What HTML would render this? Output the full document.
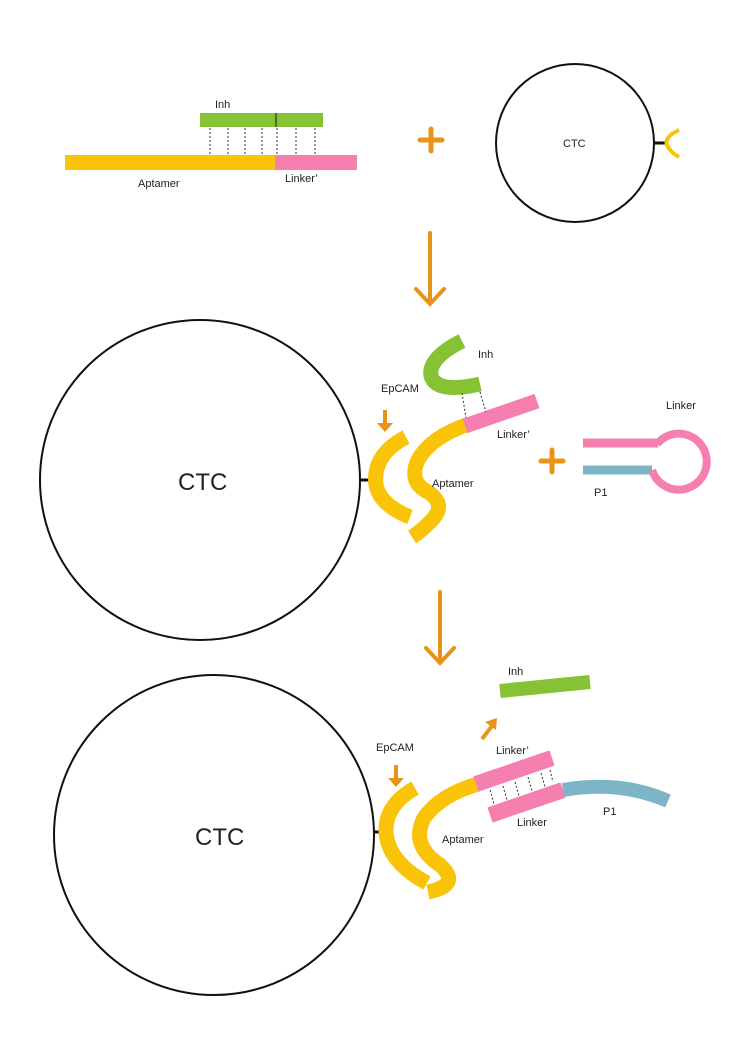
<!DOCTYPE html>
<html><head><meta charset="utf-8"><style>
html,body{margin:0;padding:0;background:#fff}
svg text{font-family:"Liberation Sans",sans-serif;fill:#222}
</style></head><body>
<svg width="750" height="1040" viewBox="0 0 750 1040" xmlns="http://www.w3.org/2000/svg">
<!-- Top panel -->
<rect x="65" y="155" width="210" height="15" fill="#F9C308"/>
<rect x="275" y="155" width="82" height="15" fill="#F57FAE"/>
<rect x="200" y="113" width="123" height="14" fill="#85C234"/>
<line x1="276" y1="113" x2="276" y2="127" stroke="#333" stroke-width="1.2"/>
<g stroke="#333" stroke-width="1" stroke-dasharray="2,2">
<line x1="210" y1="128" x2="210" y2="155"/><line x1="228" y1="128" x2="228" y2="155"/>
<line x1="245" y1="128" x2="245" y2="155"/><line x1="262" y1="128" x2="262" y2="155"/>
<line x1="277" y1="128" x2="277" y2="155"/><line x1="296" y1="128" x2="296" y2="155"/>
<line x1="315" y1="128" x2="315" y2="155"/>
</g>
<text x="215" y="108" font-size="11">Inh</text>
<text x="138" y="187" font-size="11">Aptamer</text>
<text x="285" y="182" font-size="11">Linker’</text>
<g stroke="#E8941A" stroke-width="5" stroke-linecap="round">
<line x1="420" y1="140" x2="442" y2="140"/><line x1="431" y1="129" x2="431" y2="151"/>
</g>
<circle cx="575" cy="143" r="79" fill="none" stroke="#111" stroke-width="2"/>
<text x="563" y="147" font-size="11">CTC</text>
<line x1="654" y1="143" x2="665" y2="143" stroke="#111" stroke-width="3"/>
<path d="M679 130 Q664 137 667 145 Q670 152 679 157" fill="none" stroke="#F9C308" stroke-width="4"/>
<!-- arrow 1 -->
<g stroke="#E8941A" stroke-width="4" fill="none" stroke-linecap="round">
<line x1="430" y1="233" x2="430" y2="303"/><polyline points="416,289 430,304 444,289"/>
</g>
<!-- Middle panel -->
<circle cx="200" cy="480" r="160" fill="none" stroke="#111" stroke-width="2"/>
<text x="178" y="490" font-size="24">CTC</text>
<line x1="359" y1="480" x2="370" y2="480" stroke="#111" stroke-width="3"/>
<path d="M406 437 Q372 455 376 485 Q380 505 410 517" fill="none" stroke="#F9C308" stroke-width="15"/>
<path d="M466 425 Q430 438 418 460 Q408 482 428 492 Q448 505 430 522 Q420 532 412 537" fill="none" stroke="#F9C308" stroke-width="15"/>
<path d="M465 426 L537 401" stroke="#F57FAE" stroke-width="15"/>
<path d="M462 341 Q428 358 431 376 Q437 394 480 384" fill="none" stroke="#85C234" stroke-width="15"/>
<g stroke="#333" stroke-width="1" stroke-dasharray="2,2">
<line x1="462" y1="393" x2="466" y2="418"/><line x1="480" y1="392" x2="486" y2="412"/>
</g>
<line x1="385" y1="410" x2="385" y2="425" stroke="#E8941A" stroke-width="4"/>
<polygon points="377,423 393,423 385,432" fill="#E8941A"/>
<text x="478" y="358" font-size="11">Inh</text>
<text x="381" y="392" font-size="11">EpCAM</text>
<text x="497" y="438" font-size="11">Linker’</text>
<text x="432" y="487" font-size="11">Aptamer</text>
<g stroke="#E8941A" stroke-width="5" stroke-linecap="round">
<line x1="541" y1="461" x2="563" y2="461"/><line x1="552" y1="450" x2="552" y2="472"/>
</g>
<line x1="583" y1="443" x2="658" y2="443" stroke="#F57FAE" stroke-width="9"/>
<line x1="583" y1="470" x2="652" y2="470" stroke="#7DB5C6" stroke-width="9"/>
<path d="M657 444 A28 28 0 1 1 652 470" fill="none" stroke="#F57FAE" stroke-width="8"/>
<text x="666" y="409" font-size="11">Linker</text>
<text x="594" y="496" font-size="11">P1</text>
<!-- arrow 2 -->
<g stroke="#E8941A" stroke-width="4" fill="none" stroke-linecap="round">
<line x1="440" y1="592" x2="440" y2="662"/><polyline points="426,648 440,663 454,648"/>
</g>
<!-- Bottom panel -->
<circle cx="214" cy="835" r="160" fill="none" stroke="#111" stroke-width="2"/>
<text x="195" y="845" font-size="24">CTC</text>
<line x1="373" y1="832" x2="383" y2="832" stroke="#111" stroke-width="3"/>
<path d="M415 788 Q385 805 386 832 Q388 862 427 883" fill="none" stroke="#F9C308" stroke-width="15"/>
<path d="M478 784 Q440 795 424 818 Q410 845 440 865 Q462 885 428 892" fill="none" stroke="#F9C308" stroke-width="15"/>
<path d="M476 784 L552 758" stroke="#F57FAE" stroke-width="16"/>
<path d="M490 815 L563 790" stroke="#F57FAE" stroke-width="16"/>
<path d="M563 790 Q620 780 668 801" fill="none" stroke="#7DB5C6" stroke-width="14"/>
<g stroke="#333" stroke-width="1" stroke-dasharray="2,2">
<line x1="490" y1="790" x2="494" y2="804"/><line x1="503" y1="786" x2="507" y2="800"/>
<line x1="515" y1="782" x2="519" y2="796"/><line x1="528" y1="777" x2="532" y2="791"/>
<line x1="541" y1="773" x2="545" y2="787"/><line x1="550" y1="770" x2="553" y2="782"/>
</g>
<path d="M500 691 L590 682" stroke="#85C234" stroke-width="14"/>
<line x1="482" y1="739" x2="492" y2="726" stroke="#E8941A" stroke-width="4"/>
<polygon points="485,722 497,718 496,730" fill="#E8941A"/>
<line x1="396" y1="765" x2="396" y2="780" stroke="#E8941A" stroke-width="4"/>
<polygon points="388,778 404,778 396,787" fill="#E8941A"/>
<text x="508" y="675" font-size="11">Inh</text>
<text x="376" y="751" font-size="11">EpCAM</text>
<text x="496" y="754" font-size="11">Linker’</text>
<text x="517" y="826" font-size="11">Linker</text>
<text x="603" y="815" font-size="11">P1</text>
<text x="442" y="843" font-size="11">Aptamer</text>
</svg>
</body></html>
